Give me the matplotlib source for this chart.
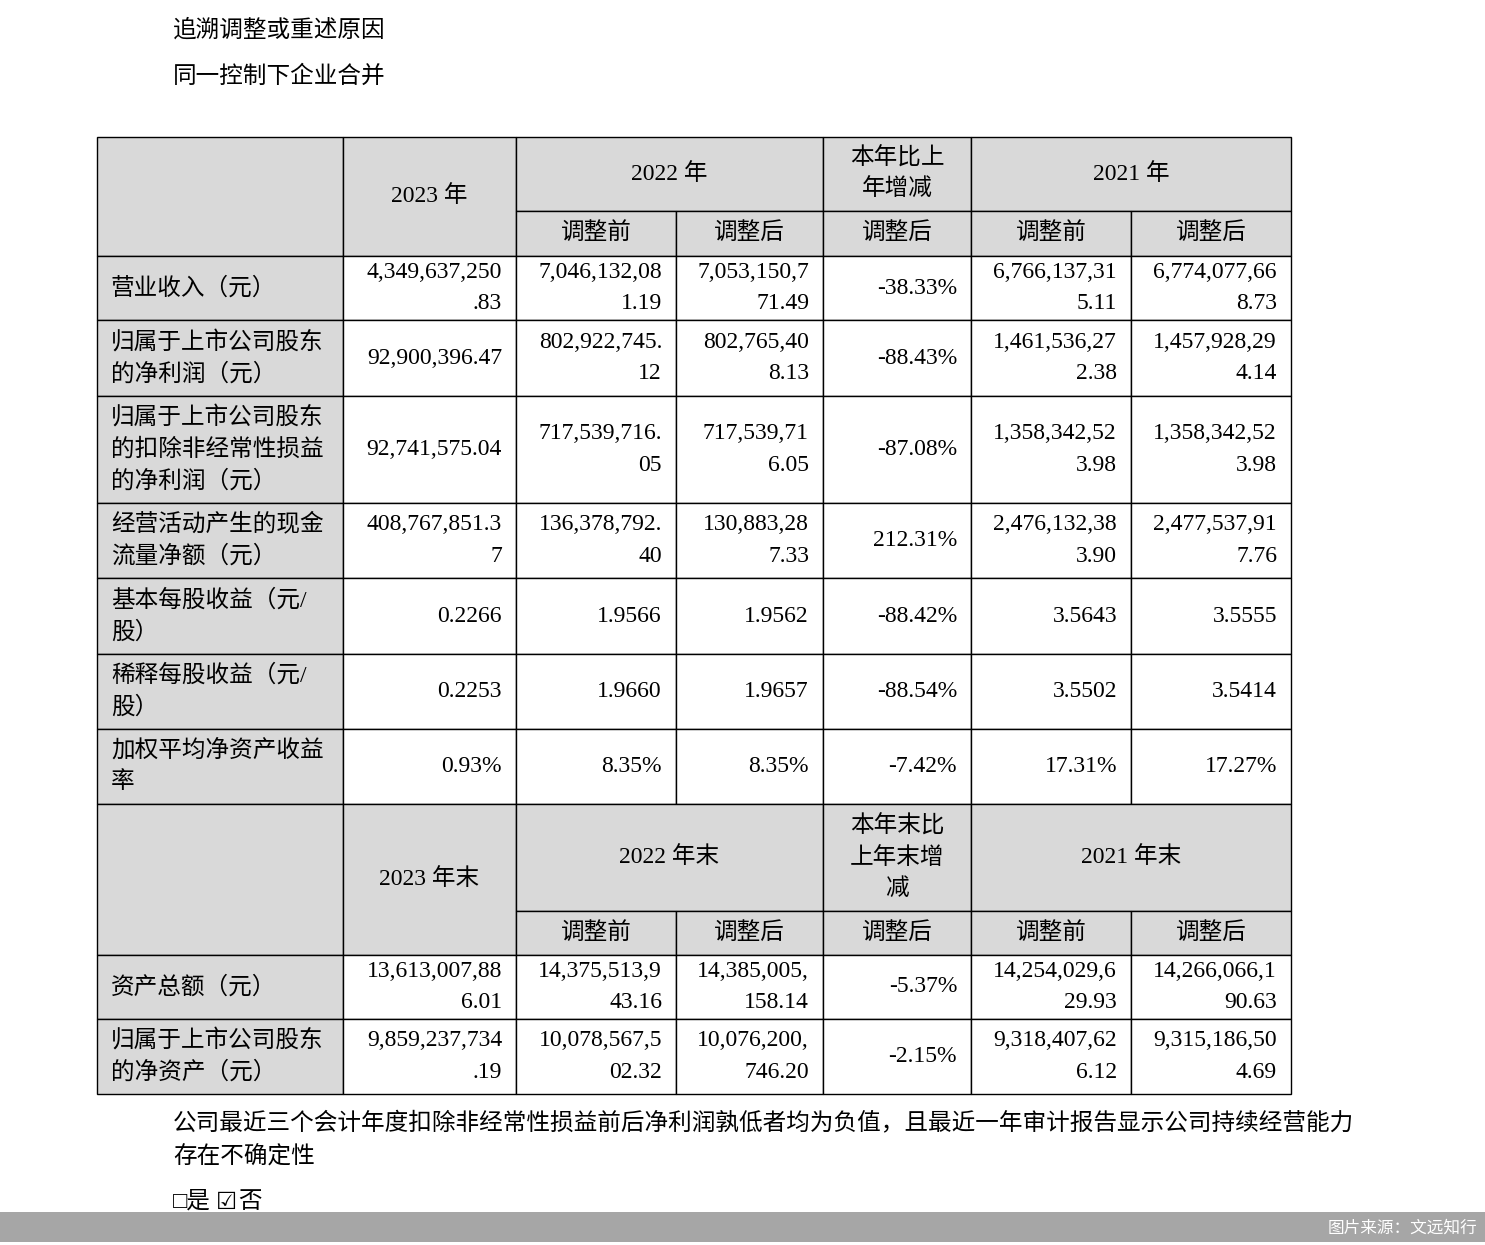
import matplotlib
matplotlib.use("Agg")
import matplotlib.pyplot as plt
from matplotlib.patches import Rectangle

plt.rcParams['font.family'] = ['Liberation Serif', 'Noto Sans CJK SC', 'DejaVu Sans']

row_labels1 = ["营业收入（元）", "归属于上市公司股东\n的净利润（元）", "归属于上市公司股东\n的扣除非经常性损益\n的净利润（元）",
               "经营活动产生的现金\n流量净额（元）", "基本每股收益（元/\n股）", "稀释每股收益（元/\n股）", "加权平均净资产收益\n率"]
data1 = [
    ["4,349,637,250\n.83", "7,046,132,08\n1.19", "7,053,150,7\n71.49", "-38.33%", "6,766,137,31\n5.11", "6,774,077,66\n8.73"],
    ["92,900,396.47", "802,922,745.\n12", "802,765,40\n8.13", "-88.43%", "1,461,536,27\n2.38", "1,457,928,29\n4.14"],
    ["92,741,575.04", "717,539,716.\n05", "717,539,71\n6.05", "-87.08%", "1,358,342,52\n3.98", "1,358,342,52\n3.98"],
    ["408,767,851.3\n7", "136,378,792.\n40", "130,883,28\n7.33", "212.31%", "2,476,132,38\n3.90", "2,477,537,91\n7.76"],
    ["0.2266", "1.9566", "1.9562", "-88.42%", "3.5643", "3.5555"],
    ["0.2253", "1.9660", "1.9657", "-88.54%", "3.5502", "3.5414"],
    ["0.93%", "8.35%", "8.35%", "-7.42%", "17.31%", "17.27%"],
]
row_labels2 = ["资产总额（元）", "归属于上市公司股东\n的净资产（元）"]
data2 = [
    ["13,613,007,88\n6.01", "14,375,513,9\n43.16", "14,385,005,\n158.14", "-5.37%", "14,254,029,6\n29.93", "14,266,066,1\n90.63"],
    ["9,859,237,734\n.19", "10,078,567,5\n02.32", "10,076,200,\n746.20", "-2.15%", "9,318,407,62\n6.12", "9,315,186,50\n4.69"],
]
hdr1 = ["2023 年", "2022 年", "本年比上\n年增减", "2021 年"]
hdr2 = ["2023 年末", "2022 年末", "本年末比\n上年末增\n减", "2021 年末"]
sub = ["调整前", "调整后", "调整后", "调整前", "调整后"]

W, H = 1485, 1245
fig = plt.figure(figsize=(W/100, H/100), dpi=100)
ax = fig.add_axes([0, 0, 1, 1])
ax.set_xlim(0, W); ax.set_ylim(H, 0); ax.axis('off')

xs = [97, 343, 516, 676, 823, 971, 1131, 1291]
FS = 17
gray = '#d9d9d9'
LSP = 1.65

def rect(x0, y0, x1, y1, fc):
    ax.add_patch(Rectangle((x0, y0), x1-x0, y1-y0, fc=fc, ec='black', lw=1))

def header(y0, ysplit, y1, h):
    rect(xs[0], y0, xs[1], y1, gray)
    rect(xs[1], y0, xs[2], y1, gray)
    ax.text((xs[1]+xs[2])/2, (y0+y1)/2, h[0], ha='center', va='center', fontsize=FS)
    rect(xs[2], y0, xs[4], ysplit, gray)
    ax.text((xs[2]+xs[4])/2, (y0+ysplit)/2, h[1], ha='center', va='center', fontsize=FS)
    rect(xs[4], y0, xs[5], ysplit, gray)
    ax.text((xs[4]+xs[5])/2, (y0+ysplit)/2, h[2], ha='center', va='center', fontsize=FS, linespacing=1.55)
    rect(xs[5], y0, xs[7], ysplit, gray)
    ax.text((xs[5]+xs[7])/2, (y0+ysplit)/2, h[3], ha='center', va='center', fontsize=FS)
    for i, s in enumerate(sub):
        rect(xs[2+i], ysplit, xs[3+i], y1, gray)
        ax.text((xs[2+i]+xs[3+i])/2, (ysplit+y1)/2, s, ha='center', va='center', fontsize=FS)

def body(ys, labels, data):
    for r, (lab, vals) in enumerate(zip(labels, data)):
        y0, y1 = ys[r], ys[r+1]
        yc = (y0+y1)/2
        rect(xs[0], y0, xs[1], y1, gray)
        ax.text(xs[0]+14, yc, lab, ha='left', va='center', fontsize=FS, linespacing=1.55)
        for c, v in enumerate(vals):
            rect(xs[1+c], y0, xs[2+c], y1, 'white')
            ax.text(xs[2+c]-14, yc, v, ha='right', va='center', fontsize=FS, linespacing=LSP, multialignment='right')

header(137, 211, 256, hdr1)
body([256, 320, 396, 503, 578, 654, 729, 804], row_labels1, data1)
header(804, 911, 955, hdr2)
body([955, 1019, 1094], row_labels2, data2)

ax.text(173, 30, "追溯调整或重述原因", ha='left', va='center', fontsize=FS)
ax.text(173, 77, "同一控制下企业合并", ha='left', va='center', fontsize=FS)
ax.text(173, 1140, "公司最近三个会计年度扣除非经常性损益前后净利润孰低者均为负值，且最近一年审计报告显示公司持续经营能力\n存在不确定性",
        ha='left', va='center', fontsize=FS, linespacing=1.55)
ax.text(173, 1202, "□是", ha='left', va='center', fontsize=FS)
ax.text(216, 1202, "☑", ha='left', va='center', fontsize=FS, family='DejaVu Sans')
ax.text(238, 1202, "否", ha='left', va='center', fontsize=FS)

ax.add_patch(Rectangle((0, 1212), W, 30, fc='#a6a6a6', ec='none'))
ax.text(1477, 1228, "图片来源：文远知行", ha='right', va='center', fontsize=12, color='white', family='Noto Sans CJK SC')

fig.savefig("out.png", dpi=100)
